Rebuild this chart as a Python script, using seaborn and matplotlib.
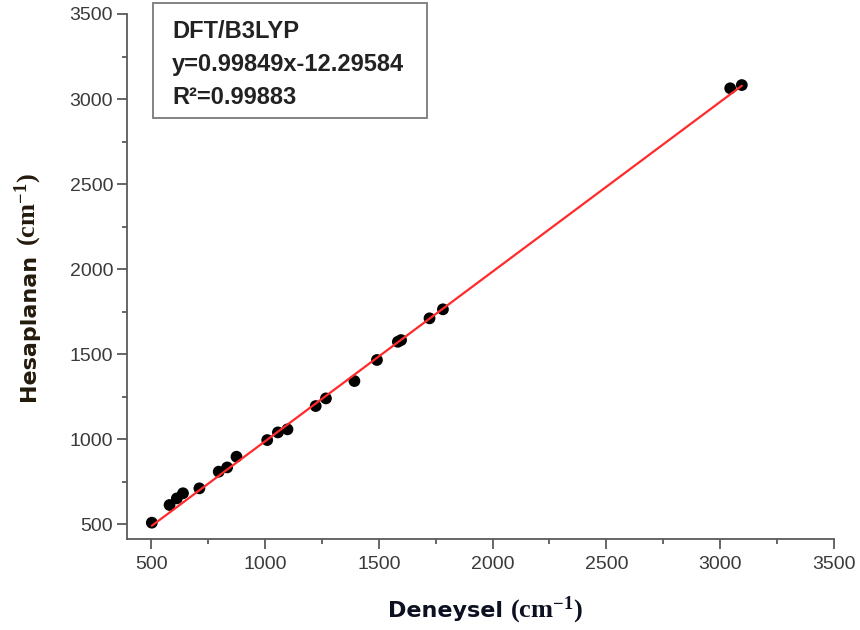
import matplotlib
matplotlib.use("Agg")
import matplotlib.pyplot as plt
from matplotlib.ticker import MultipleLocator
from matplotlib.patches import Rectangle
import seaborn as sns
import numpy as np
import pandas as pd

# ---- data ----
experimental = [503, 581, 613, 640, 712, 797, 834, 875, 1010, 1057, 1099,
                1223, 1268, 1393, 1492, 1584, 1598, 1723, 1782, 3044, 3095]
calculated = [508, 612, 651, 681, 710, 808, 833, 896, 994, 1039, 1057,
              1194, 1239, 1341, 1465, 1572, 1582, 1710, 1763, 3063, 3082]
slope = 0.99849
intercept = -12.29584
r_squared = 0.99883
method = "DFT/B3LYP"
x_ticks = [500, 1000, 1500, 2000, 2500, 3000, 3500]
y_ticks = [500, 1000, 1500, 2000, 2500, 3000, 3500]
x_title = "Deneysel"
y_title = "Hesaplanan"
unit = r"(cm$^{\mathbf{-1}}$)"

sns.set_theme(style="white")
plt.rcParams["font.family"] = ["Liberation Sans", "DejaVu Sans"]
plt.rcParams["mathtext.fontset"] = "custom"
plt.rcParams["mathtext.rm"] = "Liberation Serif:bold"
plt.rcParams["mathtext.bf"] = "Liberation Serif:bold"
plt.rcParams["mathtext.it"] = "Liberation Serif:bold:italic"

W, H = 860, 630
df = pd.DataFrame({"exp": experimental, "calc": calculated})
line_x = np.array([min(experimental), max(experimental)])
line_df = pd.DataFrame({"x": line_x, "y": slope * line_x + intercept})

fig = plt.figure(figsize=(W / 100, H / 100), dpi=100)
ax = fig.add_axes([127 / W, 1 - 539 / H, (834 - 127) / W, (539 - 14) / H])

sns.lineplot(data=line_df, x="x", y="y", ax=ax, color="#ff2a2a", linewidth=1.6, zorder=3)
sns.scatterplot(data=df, x="exp", y="calc", ax=ax, color="black", s=72,
                edgecolor="none", zorder=2)

ax.set_xlim(394, 3500)
ax.set_ylim(412, 3500)
ax.set_xticks(x_ticks)
ax.set_yticks(y_ticks)
ax.xaxis.set_minor_locator(MultipleLocator(250))
ax.yaxis.set_minor_locator(MultipleLocator(250))

for side in ["top", "right"]:
    ax.spines[side].set_visible(False)
for side in ["left", "bottom"]:
    ax.spines[side].set_color("#5a5a5a")
    ax.spines[side].set_linewidth(1.3)

ax.tick_params(axis="both", which="major", direction="out", length=7, width=1.3,
               color="#5a5a5a", labelsize=14, labelcolor="#3a3a3a",
               bottom=True, left=True)
ax.tick_params(axis="both", which="minor", direction="out", length=3.5, width=1.3,
               color="#5a5a5a", bottom=True, left=True)
ax.tick_params(axis="x", which="major", pad=5)
ax.tick_params(axis="y", which="major", pad=3)
ax.set_xlabel("")
ax.set_ylabel("")

# axis titles: sans bold word + serif bold unit
sans = dict(family=["DejaVu Sans"], fontweight="bold", fontsize=16)
serif = dict(family=["Liberation Serif"], fontweight="bold", fontsize=19)
fig.text(503 / W, 1 - 617 / H, x_title, ha="right", va="baseline",
         color="#0d1020", **sans)
fig.text(510 / W, 1 - 617 / H, unit, ha="left", va="baseline",
         color="#0d1020", **serif)
fig.text(35 / W, 1 - 254 / H, y_title, ha="right", va="baseline", rotation=90,
         rotation_mode="anchor", color="#241a0c", **sans)
fig.text(35 / W, 1 - 246 / H, unit, ha="left", va="baseline", rotation=90,
         rotation_mode="anchor", color="#241a0c", **serif)

# annotation box
fig.patches.append(Rectangle((153 / W, 1 - 118 / H), (427 - 153) / W, (118 - 3) / H,
                             transform=fig.transFigure, facecolor="white",
                             edgecolor="#7a7a7a", linewidth=1.3, zorder=5))
box_lines = [method, f"y={slope}x{intercept}", f"R\u00b2={r_squared}"]
baselines = [38, 71, 104]
for txt, b in zip(box_lines, baselines):
    fig.text(172 / W, 1 - b / H, txt, ha="left", va="baseline", fontsize=17,
             fontweight="bold", color="#222222",
             family=["Liberation Sans", "DejaVu Sans"], zorder=6)

fig.savefig("out.png", dpi=100)
